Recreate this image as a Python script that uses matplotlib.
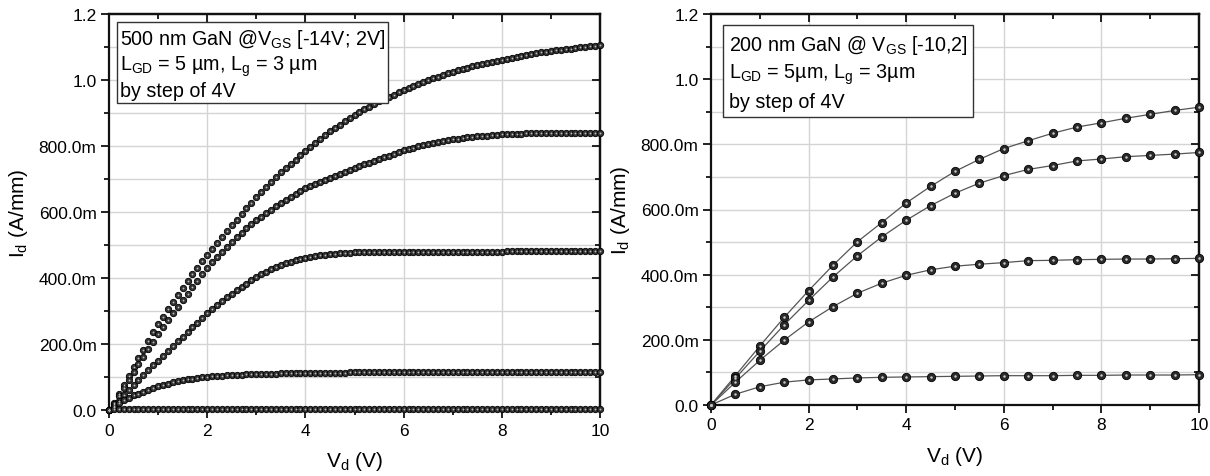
import matplotlib
matplotlib.use('Agg')
import matplotlib.pyplot as plt
from matplotlib.ticker import MultipleLocator, FuncFormatter, NullFormatter

plt.rcParams['font.family'] = ['Liberation Sans', 'DejaVu Sans']
plt.rcParams['mathtext.fontset'] = 'custom'
plt.rcParams['mathtext.rm'] = 'Liberation Sans'
plt.rcParams['mathtext.it'] = 'Liberation Sans'

# ---- left panel: 500 nm GaN, Vd from 0 to 10 V by 0.1 V ----
vd_500 = [i / 10 for i in range(101)]

id_500_a = [0.000, 0.020, 0.048, 0.076, 0.103, 0.130, 0.157, 0.183, 0.209, 0.235, 0.260,
            0.283, 0.305, 0.327, 0.349, 0.370, 0.391, 0.411, 0.431, 0.451, 0.470,
            0.489, 0.507, 0.525, 0.543, 0.560, 0.577, 0.594, 0.611, 0.628, 0.645,
            0.660, 0.675, 0.690, 0.705, 0.720, 0.733, 0.746, 0.759, 0.772, 0.785,
            0.797, 0.809, 0.821, 0.833, 0.845, 0.855, 0.865, 0.875, 0.885, 0.895,
            0.903, 0.911, 0.919, 0.927, 0.935, 0.942, 0.949, 0.956, 0.963, 0.970,
            0.976, 0.982, 0.988, 0.994, 1.000, 1.005, 1.010, 1.015, 1.020, 1.025,
            1.029, 1.033, 1.037, 1.041, 1.045, 1.048, 1.052, 1.055, 1.059, 1.062,
            1.065, 1.068, 1.071, 1.074, 1.077, 1.079, 1.081, 1.084, 1.086, 1.088,
            1.090, 1.092, 1.094, 1.095, 1.097, 1.099, 1.100, 1.102, 1.103, 1.105]

id_500_b = [0.000, 0.018, 0.042, 0.066, 0.090, 0.115, 0.138, 0.161, 0.184, 0.207, 0.230,
            0.251, 0.272, 0.293, 0.313, 0.333, 0.353, 0.373, 0.392, 0.411, 0.430,
            0.447, 0.463, 0.479, 0.494, 0.509, 0.523, 0.537, 0.550, 0.563, 0.575,
            0.586, 0.597, 0.607, 0.617, 0.627, 0.636, 0.645, 0.654, 0.663, 0.672,
            0.678, 0.684, 0.690, 0.696, 0.702, 0.708, 0.714, 0.720, 0.726, 0.732,
            0.738, 0.744, 0.750, 0.756, 0.761, 0.766, 0.771, 0.776, 0.782, 0.787,
            0.791, 0.795, 0.799, 0.803, 0.806, 0.809, 0.812, 0.815, 0.818, 0.820,
            0.822, 0.824, 0.826, 0.828, 0.829, 0.830, 0.831, 0.832, 0.834, 0.835,
            0.836, 0.836, 0.837, 0.837, 0.838, 0.838, 0.838, 0.839, 0.839, 0.839,
            0.839, 0.839, 0.840, 0.840, 0.840, 0.840, 0.840, 0.840, 0.840, 0.840]

id_500_c = [0.000, 0.012, 0.028, 0.044, 0.060, 0.075, 0.090, 0.105, 0.120, 0.135, 0.150,
            0.165, 0.179, 0.194, 0.208, 0.222, 0.236, 0.251, 0.265, 0.279, 0.293,
            0.305, 0.317, 0.329, 0.341, 0.352, 0.363, 0.373, 0.383, 0.393, 0.403,
            0.411, 0.419, 0.426, 0.433, 0.440, 0.445, 0.450, 0.454, 0.458, 0.462,
            0.464, 0.467, 0.469, 0.471, 0.473, 0.474, 0.475, 0.476, 0.477, 0.478,
            0.478, 0.478, 0.479, 0.479, 0.479, 0.479, 0.479, 0.480, 0.480, 0.480,
            0.480, 0.480, 0.480, 0.480, 0.480, 0.480, 0.480, 0.480, 0.480, 0.480,
            0.480, 0.480, 0.480, 0.480, 0.480, 0.480, 0.480, 0.480, 0.480, 0.480,
            0.481, 0.481, 0.481, 0.481, 0.481, 0.481, 0.481, 0.481, 0.481, 0.481,
            0.481, 0.481, 0.481, 0.481, 0.481, 0.481, 0.481, 0.481, 0.481, 0.481]

id_500_d = [0.000, 0.010, 0.020, 0.029, 0.037, 0.044, 0.050, 0.056, 0.062, 0.067, 0.072,
            0.076, 0.080, 0.084, 0.087, 0.090, 0.093, 0.095, 0.097, 0.099, 0.101,
            0.102, 0.103, 0.104, 0.105, 0.106, 0.107, 0.107, 0.108, 0.108, 0.109,
            0.109, 0.110, 0.110, 0.110, 0.111, 0.111, 0.111, 0.111, 0.112, 0.112,
            0.112, 0.112, 0.112, 0.113, 0.113, 0.113, 0.113, 0.113, 0.114, 0.114,
            0.114, 0.114, 0.114, 0.114, 0.114, 0.114, 0.114, 0.114, 0.114, 0.115,
            0.115, 0.115, 0.115, 0.115, 0.115, 0.115, 0.115, 0.115, 0.115, 0.115,
            0.115, 0.115, 0.115, 0.115, 0.115, 0.115, 0.115, 0.115, 0.115, 0.115,
            0.116, 0.116, 0.116, 0.116, 0.116, 0.116, 0.116, 0.116, 0.116, 0.116,
            0.116, 0.116, 0.116, 0.116, 0.116, 0.116, 0.116, 0.116, 0.116, 0.116]

id_500_e = [0.000] + [0.002] * 100

# ---- right panel: 200 nm GaN, Vd from 0 to 10 V by 0.5 V ----
vd_200 = [0.0, 0.5, 1.0, 1.5, 2.0, 2.5, 3.0, 3.5, 4.0, 4.5, 5.0,
          5.5, 6.0, 6.5, 7.0, 7.5, 8.0, 8.5, 9.0, 9.5, 10.0]

id_200_a = [0.000, 0.090, 0.181, 0.269, 0.351, 0.429, 0.501, 0.560, 0.620, 0.671, 0.717,
            0.754, 0.787, 0.811, 0.834, 0.853, 0.866, 0.880, 0.892, 0.904, 0.914]
id_200_b = [0.000, 0.082, 0.165, 0.246, 0.321, 0.393, 0.458, 0.516, 0.567, 0.612, 0.650,
            0.681, 0.704, 0.723, 0.735, 0.749, 0.755, 0.762, 0.766, 0.770, 0.775]
id_200_c = [0.000, 0.070, 0.137, 0.199, 0.255, 0.302, 0.343, 0.374, 0.398, 0.415, 0.426,
            0.432, 0.437, 0.443, 0.444, 0.446, 0.447, 0.448, 0.448, 0.449, 0.450]
id_200_d = [0.000, 0.033, 0.056, 0.070, 0.077, 0.080, 0.083, 0.085, 0.086, 0.087, 0.088,
            0.089, 0.090, 0.090, 0.090, 0.091, 0.091, 0.092, 0.092, 0.092, 0.093]

yticks = [0.0, 0.2, 0.4, 0.6, 0.8, 1.0, 1.2]


def fmt_y(v, pos):
    if abs(v) < 1e-9:
        return '0.0'
    if v < 0.95:
        return '%.1fm' % (v * 1000)
    return '%.1f' % v


def style_axes(ax):
    ax.set_xlim(0, 10)
    ax.set_ylim(0, 1.2)
    ax.xaxis.set_major_locator(MultipleLocator(2))
    ax.xaxis.set_minor_locator(MultipleLocator(1))
    ax.set_yticks(yticks)
    ax.yaxis.set_minor_locator(MultipleLocator(0.1))
    ax.yaxis.set_major_formatter(FuncFormatter(fmt_y))
    ax.tick_params(which='both', labelsize=12.5, width=1.3, color='#111111', pad=3,
                   direction='out', top=False, right=False)
    ax.tick_params(which='major', length=6)
    ax.tick_params(which='minor', length=3.5)
    for s in ax.spines.values():
        s.set_linewidth(1.6)
        s.set_color('#111111')

    # top and right ticks point inwards, without labels
    top = ax.secondary_xaxis('top')
    top.xaxis.set_major_locator(MultipleLocator(2))
    top.xaxis.set_minor_locator(MultipleLocator(1))
    top.xaxis.set_major_formatter(NullFormatter())
    top.tick_params(which='both', direction='in', width=1.3, color='#111111')
    top.tick_params(which='major', length=6)
    top.tick_params(which='minor', length=3.5)
    top.spines['top'].set_linewidth(1.6)
    right = ax.secondary_yaxis('right')
    right.set_yticks(yticks)
    right.yaxis.set_minor_locator(MultipleLocator(0.1))
    right.yaxis.set_major_formatter(NullFormatter())
    right.tick_params(which='both', direction='in', width=1.3, color='#111111')
    right.tick_params(which='major', length=6)
    right.tick_params(which='minor', length=3.5)
    right.spines['right'].set_linewidth(1.6)

    # gridlines: y every 0.1, x at the major ticks only
    for g in [i / 10 for i in range(1, 12)]:
        ax.axhline(g, color='#d4d4d4', lw=1.0, zorder=0)
    for g in [2, 4, 6, 8]:
        ax.axvline(g, color='#d4d4d4', lw=1.0, zorder=0)
    ax.set_xlabel('V$_\\mathregular{d}$ (V)', fontsize=15, labelpad=8)
    ax.set_ylabel('I$_\\mathregular{d}$ (A/mm)', fontsize=15, labelpad=6)


fig = plt.figure(figsize=(12.1, 4.77), dpi=100)
ax1 = fig.add_axes([109 / 1210, 1 - 411 / 477, 491 / 1210, 396 / 477])
ax2 = fig.add_axes([711 / 1210, 1 - 406 / 477, 488 / 1210, 391 / 477])

for curve in [id_500_a, id_500_b, id_500_c, id_500_d, id_500_e]:
    ax1.plot(vd_500, curve, linestyle='none', marker='o', markersize=4.6,
             markerfacecolor='#333333', markeredgecolor='#000000', markeredgewidth=0.6,
             zorder=3, clip_on=False)
    ax1.plot(vd_500, curve, linestyle='none', marker='o', markersize=1.3,
             markerfacecolor='#bdbdbd', markeredgewidth=0, zorder=4, clip_on=False)

for curve in [id_200_a, id_200_b, id_200_c, id_200_d]:
    ax2.plot(vd_200, curve, color='#555555', lw=0.9, zorder=2)
    ax2.plot(vd_200, curve, linestyle='none', marker='o', markersize=6,
             markerfacecolor='#2a2a2a', markeredgecolor='#000000', markeredgewidth=0.6,
             zorder=3, clip_on=False)
    ax2.plot(vd_200, curve, linestyle='none', marker='o', markersize=1.8,
             markerfacecolor='#c8c8c8', markeredgewidth=0, zorder=4, clip_on=False)

style_axes(ax1)
style_axes(ax2)

ax1.text(0.022, 0.967,
         '500 nm GaN @V$_\\mathregular{GS}$ [-14V; 2V]\n'
         'L$_\\mathregular{GD}$ = 5 µm, L$_\\mathregular{g}$ = 3 µm\n'
         'by step of 4V',
         transform=ax1.transAxes, fontsize=14.2, va='top', ha='left', linespacing=1.2,
         zorder=6,
         bbox=dict(boxstyle='square,pad=0.15', fc='white', ec='#333333', lw=1.0))

ax2.text(0.036, 0.952,
         '200 nm GaN @ V$_\\mathregular{GS}$ [-10,2]\n'
         'L$_\\mathregular{GD}$ = 5µm, L$_\\mathregular{g}$ = 3µm\n'
         'by step of 4V',
         transform=ax2.transAxes, fontsize=14.2, va='top', ha='left', linespacing=1.38,
         zorder=6,
         bbox=dict(boxstyle='square,pad=0.3', fc='white', ec='#333333', lw=1.0))

fig.savefig('out.png', dpi=100)
